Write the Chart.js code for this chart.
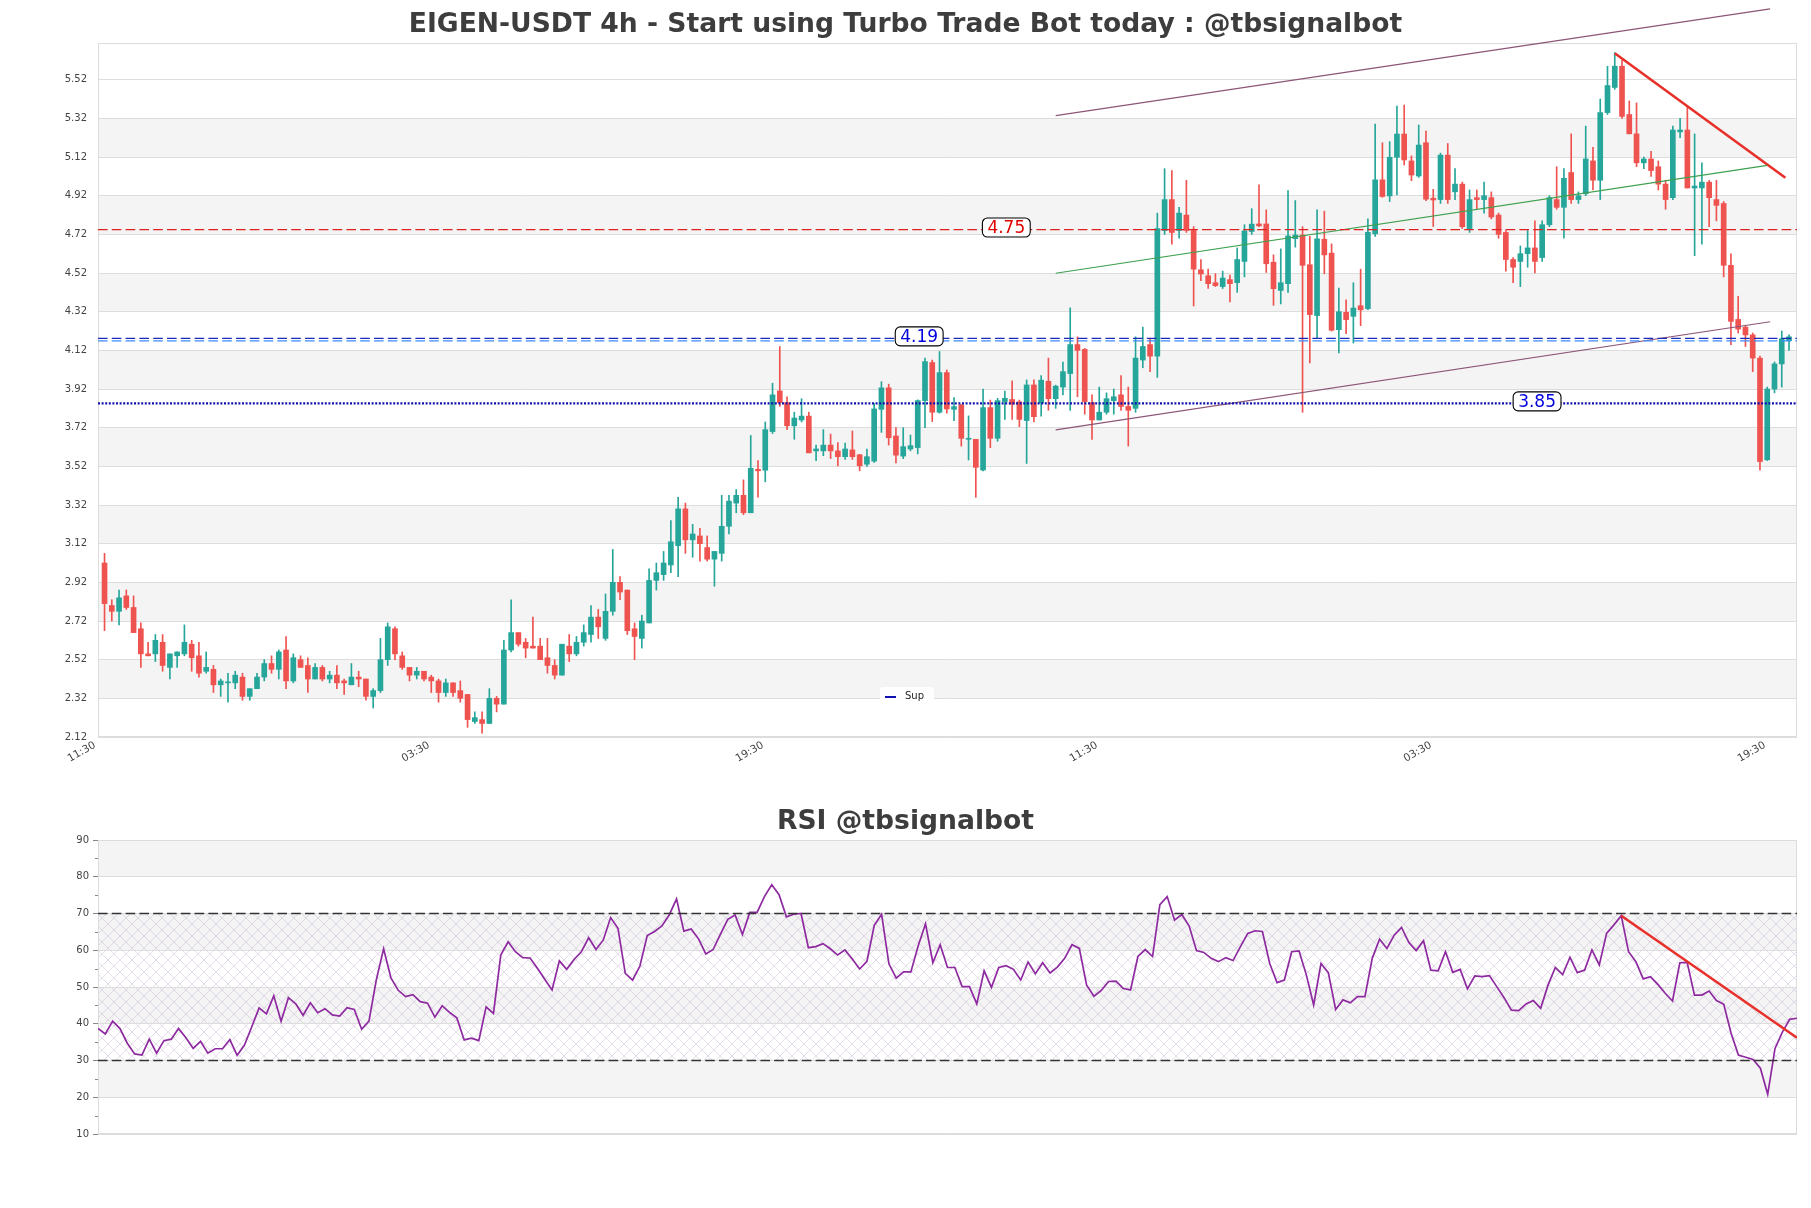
<!DOCTYPE html>
<html lang="en">
<head>
<meta charset="UTF-8">
<title>EIGEN-USDT 4h</title>
<script src="https://cdn.jsdelivr.net/npm/chart.js"></script>
<style>
  body { margin: 0; background: #fff; }
  #wrap { position: relative; width: 1811px; height: 1208px; }
  canvas { position: absolute; left: 0; }
  #price { top: 0; }
  #rsiChart { top: 780px; }
</style>
</head>
<body>
<div id="wrap">
  <canvas id="price" width="1811" height="780"></canvas>
  <canvas id="rsiChart" width="1811" height="428"></canvas>
</div>
<script>
// 4h candles (one entry per candle)
const open = [
  3.02, 2.80, 2.77, 2.85, 2.79, 2.68, 2.55, 2.55, 2.61, 2.48,
  2.54, 2.55, 2.60, 2.54, 2.46, 2.47, 2.39, 2.40, 2.40, 2.43,
  2.33, 2.37, 2.43, 2.50, 2.47, 2.57, 2.41, 2.52, 2.49, 2.42,
  2.48, 2.42, 2.44, 2.41, 2.39, 2.43, 2.42, 2.33, 2.36, 2.52,
  2.68, 2.54, 2.48, 2.44, 2.46, 2.43, 2.41, 2.35, 2.40, 2.36,
  2.34, 2.20, 2.21, 2.19, 2.32, 2.29, 2.57, 2.66, 2.61, 2.59,
  2.59, 2.53, 2.49, 2.44, 2.59, 2.55, 2.61, 2.65, 2.74, 2.63,
  2.77, 2.92, 2.88, 2.68, 2.63, 2.71, 2.93, 2.96, 3.01, 3.11,
  3.30, 3.14, 3.16, 3.10, 3.04, 3.07, 3.21, 3.33, 3.37, 3.28,
  3.505, 3.50, 3.70, 3.91, 3.85, 3.73, 3.76, 3.78, 3.60, 3.60,
  3.63, 3.60, 3.57, 3.605, 3.58, 3.531, 3.547, 3.815, 3.926, 3.677,
  3.573, 3.61, 3.617, 3.86, 4.057, 3.80, 4.005, 3.815, 3.838, 3.66,
  3.66, 3.501, 3.824, 3.665, 3.855, 3.866, 3.854, 3.757, 3.941, 3.848,
  3.96, 3.87, 3.93, 4.00, 4.15, 4.125, 3.85, 3.76, 3.80, 3.86,
  3.89, 3.83, 3.82, 4.07, 4.15, 4.09, 4.74, 4.90, 4.74, 4.82,
  4.74, 4.537, 4.506, 4.47, 4.45, 4.486, 4.47, 4.58, 4.735, 4.774,
  4.774, 4.576, 4.43, 4.465, 4.698, 4.717, 4.563, 4.30, 4.695, 4.623,
  4.227, 4.317, 4.296, 4.351, 4.336, 4.723, 5.002, 4.919, 5.119, 5.239,
  5.10, 5.022, 5.194, 4.907, 4.90, 5.13, 4.94, 4.98, 4.75, 4.91,
  4.90, 4.91, 4.82, 4.73, 4.59, 4.58, 4.62, 4.65, 4.60, 4.77,
  4.90, 4.86, 5.04, 4.90, 4.93, 5.10, 5.00, 5.35, 5.48, 5.59,
  5.34, 5.24, 5.09, 5.11, 5.07, 4.98, 4.91, 5.25, 5.26, 4.96,
  4.96, 4.99, 4.90, 4.88, 4.56, 4.28, 4.24, 4.20, 4.08, 3.554,
  3.92, 4.05, 4.17
];
const high = [
  3.07, 2.83, 2.88, 2.88, 2.85, 2.71, 2.61, 2.65, 2.65, 2.55,
  2.56, 2.70, 2.62, 2.61, 2.56, 2.49, 2.42, 2.45, 2.46, 2.45,
  2.37, 2.45, 2.52, 2.54, 2.57, 2.64, 2.55, 2.54, 2.53, 2.50,
  2.49, 2.46, 2.49, 2.42, 2.50, 2.46, 2.42, 2.37, 2.63, 2.71,
  2.69, 2.56, 2.48, 2.48, 2.46, 2.44, 2.42, 2.42, 2.40, 2.41,
  2.34, 2.25, 2.25, 2.37, 2.33, 2.62, 2.83, 2.66, 2.63, 2.74,
  2.63, 2.63, 2.52, 2.60, 2.65, 2.64, 2.70, 2.80, 2.78, 2.86,
  3.09, 2.95, 2.88, 2.71, 2.75, 2.99, 3.02, 3.08, 3.24, 3.36,
  3.33, 3.22, 3.20, 3.16, 3.08, 3.37, 3.37, 3.40, 3.45, 3.68,
  3.55, 3.75, 3.95, 4.14, 3.88, 3.80, 3.87, 3.80, 3.63, 3.71,
  3.687, 3.643, 3.64, 3.703, 3.582, 3.61, 3.846, 3.958, 3.945, 3.72,
  3.72, 3.682, 3.864, 4.08, 4.07, 4.114, 4.019, 3.876, 3.841, 3.781,
  3.66, 3.92, 3.863, 3.872, 3.91, 3.963, 3.863, 3.967, 3.967, 3.99,
  4.08, 3.94, 4.06, 4.34, 4.19, 4.13, 3.89, 3.93, 3.90, 3.92,
  3.99, 3.93, 4.19, 4.24, 4.18, 4.83, 5.06, 5.05, 4.86, 5.00,
  4.76, 4.59, 4.54, 4.517, 4.53, 4.51, 4.65, 4.77, 4.853, 4.976,
  4.847, 4.614, 4.645, 4.947, 4.895, 4.76, 4.71, 4.847, 4.84, 4.671,
  4.442, 4.382, 4.47, 4.54, 4.80, 5.29, 5.194, 5.20, 5.384, 5.389,
  5.126, 5.286, 5.255, 4.953, 5.14, 5.19, 5.06, 4.99, 4.95, 4.95,
  4.99, 4.94, 4.83, 4.74, 4.60, 4.66, 4.74, 4.79, 4.79, 4.92,
  5.07, 5.06, 5.24, 4.94, 5.28, 5.17, 5.42, 5.59, 5.66, 5.62,
  5.41, 5.40, 5.12, 5.15, 5.10, 5.00, 5.28, 5.32, 5.38, 5.24,
  5.09, 5.00, 5.00, 4.89, 4.62, 4.40, 4.25, 4.21, 4.09, 3.93,
  4.06, 4.22, 4.20
];
const low = [
  2.67, 2.72, 2.70, 2.78, 2.66, 2.48, 2.54, 2.51, 2.46, 2.42,
  2.48, 2.54, 2.46, 2.43, 2.45, 2.35, 2.33, 2.30, 2.37, 2.31,
  2.31, 2.37, 2.41, 2.45, 2.42, 2.37, 2.40, 2.48, 2.35, 2.42,
  2.41, 2.40, 2.37, 2.34, 2.39, 2.38, 2.31, 2.27, 2.35, 2.49,
  2.52, 2.47, 2.41, 2.42, 2.41, 2.35, 2.30, 2.33, 2.33, 2.30,
  2.17, 2.19, 2.14, 2.19, 2.25, 2.29, 2.56, 2.59, 2.53, 2.58,
  2.52, 2.45, 2.42, 2.44, 2.51, 2.54, 2.59, 2.61, 2.63, 2.62,
  2.75, 2.83, 2.65, 2.52, 2.58, 2.71, 2.88, 2.93, 2.97, 2.95,
  3.07, 3.05, 3.03, 3.03, 2.90, 3.03, 3.17, 3.28, 3.27, 3.28,
  3.36, 3.44, 3.69, 3.83, 3.71, 3.66, 3.75, 3.59, 3.55, 3.575,
  3.56, 3.522, 3.556, 3.556, 3.497, 3.52, 3.54, 3.696, 3.63, 3.538,
  3.56, 3.60, 3.584, 3.72, 3.752, 3.795, 3.795, 3.756, 3.625, 3.553,
  3.36, 3.497, 3.617, 3.65, 3.763, 3.763, 3.725, 3.535, 3.75, 3.78,
  3.81, 3.82, 3.89, 3.81, 3.88, 3.79, 3.66, 3.76, 3.79, 3.79,
  3.81, 3.625, 3.80, 4.03, 4.01, 3.98, 4.72, 4.67, 4.70, 4.73,
  4.35, 4.48, 4.44, 4.45, 4.44, 4.37, 4.42, 4.50, 4.72, 4.76,
  4.523, 4.353, 4.36, 4.42, 4.654, 3.80, 4.055, 4.184, 4.516, 4.22,
  4.107, 4.206, 4.158, 4.248, 4.33, 4.71, 4.912, 4.89, 4.924, 5.079,
  4.998, 5.015, 4.895, 4.761, 4.88, 4.88, 4.90, 4.75, 4.73, 4.85,
  4.83, 4.80, 4.70, 4.53, 4.47, 4.45, 4.55, 4.52, 4.58, 4.76,
  4.85, 4.70, 4.88, 4.88, 4.92, 4.95, 4.90, 5.34, 5.47, 5.32,
  5.24, 5.07, 5.06, 5.02, 4.95, 4.85, 4.90, 5.22, 4.96, 4.61,
  4.67, 4.76, 4.79, 4.50, 4.15, 4.21, 4.14, 4.01, 3.50, 3.55,
  3.90, 3.93, 4.12
];
const close = [
  2.81, 2.77, 2.84, 2.79, 2.66, 2.55, 2.54, 2.62, 2.49, 2.55,
  2.56, 2.61, 2.53, 2.45, 2.48, 2.39, 2.41, 2.40, 2.44, 2.33,
  2.37, 2.43, 2.50, 2.47, 2.56, 2.41, 2.53, 2.48, 2.42, 2.48,
  2.42, 2.44, 2.40, 2.40, 2.43, 2.42, 2.33, 2.36, 2.52, 2.69,
  2.55, 2.48, 2.44, 2.46, 2.42, 2.41, 2.35, 2.40, 2.35, 2.32,
  2.21, 2.22, 2.19, 2.32, 2.29, 2.57, 2.66, 2.60, 2.58, 2.58,
  2.52, 2.49, 2.44, 2.60, 2.55, 2.61, 2.66, 2.74, 2.69, 2.77,
  2.92, 2.87, 2.67, 2.64, 2.72, 2.93, 2.97, 3.02, 3.13, 3.30,
  3.14, 3.17, 3.12, 3.04, 3.08, 3.21, 3.34, 3.37, 3.28, 3.51,
  3.497, 3.71, 3.89, 3.85, 3.73, 3.77, 3.78, 3.59, 3.61, 3.63,
  3.60, 3.57, 3.61, 3.57, 3.523, 3.57, 3.817, 3.926, 3.668, 3.578,
  3.622, 3.627, 3.86, 4.062, 3.80, 4.005, 3.817, 3.829, 3.665, 3.662,
  3.515, 3.824, 3.665, 3.86, 3.872, 3.842, 3.763, 3.941, 3.777, 3.966,
  3.87, 3.935, 4.01, 4.15, 4.12, 3.855, 3.76, 3.80, 3.87, 3.88,
  3.83, 3.81, 4.08, 4.14, 4.09, 4.75, 4.90, 4.73, 4.83, 4.74,
  4.54, 4.515, 4.465, 4.455, 4.494, 4.465, 4.59, 4.738, 4.773, 4.764,
  4.568, 4.439, 4.47, 4.712, 4.717, 4.56, 4.305, 4.697, 4.614, 4.224,
  4.32, 4.279, 4.339, 4.33, 4.731, 5.002, 4.916, 5.119, 5.239, 5.105,
  5.027, 5.182, 4.902, 4.898, 5.13, 4.90, 4.98, 4.76, 4.90, 4.90,
  4.92, 4.81, 4.72, 4.59, 4.55, 4.62, 4.65, 4.58, 4.77, 4.91,
  4.86, 5.01, 4.90, 4.92, 5.11, 5.00, 5.35, 5.49, 5.59, 5.33,
  5.24, 5.09, 5.11, 5.05, 4.98, 4.90, 5.26, 5.26, 4.96, 4.97,
  4.99, 4.91, 4.87, 4.56, 4.27, 4.23, 4.20, 4.08, 3.545, 3.92,
  4.05, 4.18, 4.19
];
const rsi = [
  38.7, 37.2, 40.7, 38.7, 34.7, 31.8, 31.5, 35.8, 32.0, 35.4,
  35.8, 38.7, 36.2, 33.3, 35.2, 32.0, 33.2, 33.2, 35.7, 31.4,
  34.2, 39.2, 44.3, 42.7, 47.6, 40.7, 47.1, 45.4, 42.3, 45.7,
  43.0, 44.1, 42.4, 42.1, 44.4, 43.9, 38.5, 40.7, 51.9, 60.4,
  52.5, 49.1, 47.4, 47.9, 46.0, 45.6, 41.8, 44.9, 43.1, 41.6,
  35.6, 36.1, 35.4, 44.6, 42.8, 58.7, 62.3, 59.6, 58.0, 57.9,
  55.1, 52.1, 49.2, 57.1, 54.8, 57.5, 59.6, 63.4, 60.2, 62.8,
  68.9, 66.0, 53.7, 51.9, 55.7, 64.0, 65.1, 66.6, 69.6, 74.0,
  65.2, 65.8, 63.1, 59.0, 60.2, 64.4, 68.4, 69.6, 64.3, 70.3,
  70.3, 74.6, 77.8, 75.1, 69.1, 69.8, 70.0, 60.7, 61.0, 61.8,
  60.4, 58.7, 60.1, 57.6, 54.9, 57.0, 66.8, 69.8, 56.3, 52.4,
  54.1, 54.1, 61.2, 67.2, 56.6, 61.5, 55.3, 55.3, 50.1, 50.1,
  45.4, 54.4, 49.9, 55.3, 55.8, 54.8, 51.9, 56.8, 53.6, 56.6,
  53.8, 55.4, 57.8, 61.5, 60.5, 50.5, 47.5, 49.1, 51.5, 51.6,
  49.6, 49.2, 58.3, 60.2, 58.3, 72.4, 74.6, 68.2, 69.7, 66.6,
  59.9, 59.4, 57.8, 56.9, 58.0, 57.2, 61.0, 64.6, 65.3, 65.1,
  56.4, 51.2, 51.9, 59.6, 59.8, 53.3, 45.1, 56.4, 53.9, 43.9,
  46.5, 45.7, 47.4, 47.4, 57.8, 63.0, 60.5, 64.1, 66.2, 62.1,
  59.9, 62.6, 54.6, 54.4, 59.6, 54.0, 54.8, 49.5, 53.0, 52.8,
  53.1, 50.1, 47.1, 43.7, 43.6, 45.4, 46.3, 44.2, 50.5, 55.3,
  53.4, 58.1, 53.9, 54.6, 60.1, 56.0, 64.6, 66.9, 69.4, 59.6,
  56.9, 52.2, 52.8, 50.7, 48.3, 46.2, 56.6, 56.7, 47.8, 47.8,
  48.9, 46.3, 45.3, 37.4, 31.5, 30.9, 30.3, 27.9, 20.8, 33.3,
  37.7, 41.2, 41.5
];

const yTicks = [2.12, 2.32, 2.52, 2.72, 2.92, 3.12, 3.32, 3.52, 3.72, 3.92,
                4.12, 4.32, 4.52, 4.72, 4.92, 5.12, 5.32, 5.52];
const xTickLabels = ['11:30', '03:30', '19:30', '11:30', '03:30', '19:30'];
const candlesPerTick = 46;

// horizontal levels
const resistance = 4.745;
const pivotHi = 4.182;
const pivotLo = 4.169;
const support = 3.846;
const resistanceText = '4.75';
const pivotText = '4.19';
const supportText = '3.85';

// trend lines as [candle, price] pairs
const channelTop = [[132, 5.334], [230.4, 5.887]];
const channelMid = [[132, 4.519], [230.0, 5.077]];
const channelLow = [[132, 3.709], [230.4, 4.268]];
const downTrend = [[209, 5.657], [232.5, 5.013]];
const rsiTrend = [[209, 69.4], [233, 36.2]];

const GREEN = '#26a69a', RED = '#ef5350';
Chart.defaults.font.family = 'DejaVu Sans';
Chart.defaults.color = '#444';

const idx = open.map((_, i) => i + 1);
const colors = idx.map((_, i) => close[i] >= open[i] ? GREEN : RED);
const xMin = 0.1, xMax = 234.1;

function toXY(pairs) { return pairs.map(p => ({x: p[0], y: p[1]})); }
function hline(v) { return [{x: xMin, y: v}, {x: xMax, y: v}]; }

function lineSet(data, color, width, dash, extra) {
  return Object.assign({
    type: 'line', data, borderColor: color, borderWidth: width,
    borderDash: dash || [], pointRadius: 0, fill: false, tension: 0, order: 1
  }, extra || {});
}

// empty strip on the right so the plot ends where the picture's does
const rightGap = {
  position: 'right', display: true,
  grid: { display: false, drawTicks: false }, border: { display: false },
  ticks: { display: false },
  afterFit: s => { s.width = 7; }
};

const bandsPlugin = {
  id: 'bands',
  beforeDraw(chart, args, opts) {
    const {ctx, chartArea: a, scales: {y}} = chart;
    ctx.save();
    ctx.fillStyle = '#f4f4f4';
    opts.ranges.forEach(r => {
      const t = y.getPixelForValue(r[1]), b = y.getPixelForValue(r[0]);
      ctx.fillRect(a.left, t, a.right - a.left, b - t);
    });
    if (opts.hatch) {
      const c = document.createElement('canvas');
      c.width = 12; c.height = 12;
      const g = c.getContext('2d');
      g.strokeStyle = 'rgba(185,160,200,0.5)';
      g.lineWidth = 0.7;
      g.beginPath();
      g.moveTo(0, 0); g.lineTo(12, 12);
      g.moveTo(12, 0); g.lineTo(0, 12);
      g.stroke();
      ctx.fillStyle = ctx.createPattern(c, 'repeat');
      const t = y.getPixelForValue(opts.hatch[1]), b = y.getPixelForValue(opts.hatch[0]);
      ctx.fillRect(a.left, t, a.right - a.left, b - t);
    }
    ctx.restore();
  },
  beforeDatasetsDraw(chart) {
    const {ctx, chartArea: a} = chart;
    ctx.save();
    ctx.strokeStyle = '#dcdcdc';
    ctx.lineWidth = 1;
    ctx.strokeRect(a.left + 0.5, a.top + 0.5, a.right - a.left - 1, a.bottom - a.top - 1);
    ctx.restore();
  }
};

function tag(ctx, x, y, text, color) {
  ctx.font = '17px "DejaVu Sans"';
  const w = ctx.measureText(text).width + 10, h = 19;
  ctx.beginPath();
  ctx.roundRect(x - w / 2, y - h / 2, w, h, 5);
  ctx.fillStyle = '#fff';
  ctx.fill();
  ctx.strokeStyle = '#000';
  ctx.lineWidth = 1.1;
  ctx.stroke();
  ctx.fillStyle = color;
  ctx.textAlign = 'center';
  ctx.textBaseline = 'middle';
  ctx.fillText(text, x, y + 1);
}

const labelsPlugin = {
  id: 'levelTags',
  afterDatasetsDraw(chart) {
    const {ctx, chartArea: a, scales: {x, y}} = chart;
    ctx.save();
    tag(ctx, x.getPixelForValue(125.2), y.getPixelForValue(resistance) - 2, resistanceText, '#e00000');
    tag(ctx, x.getPixelForValue(113.2), y.getPixelForValue(pivotHi) - 2, pivotText, '#0000dd');
    tag(ctx, x.getPixelForValue(198.3), y.getPixelForValue(support) - 2, supportText, '#0000dd');

    // legend box
    const lx = a.left + 782, ly = a.bottom - 50;
    ctx.fillStyle = 'rgba(255,255,255,0.9)';
    ctx.beginPath();
    ctx.roundRect(lx, ly, 54, 17, 3);
    ctx.fill();
    ctx.strokeStyle = '#1010b0';
    ctx.lineWidth = 2;
    ctx.beginPath();
    ctx.moveTo(lx + 5, ly + 10); ctx.lineTo(lx + 16, ly + 10);
    ctx.stroke();
    ctx.fillStyle = '#222';
    ctx.font = '10px "DejaVu Sans"';
    ctx.textAlign = 'left';
    ctx.textBaseline = 'middle';
    ctx.fillText('Sup', lx + 25, ly + 9);
    ctx.restore();
  }
};

new Chart(document.getElementById('price'), {
  type: 'bar',
  data: {
    datasets: [
      {
        label: 'wick', data: idx.map((x, i) => ({x, y: [low[i], high[i]]})),
        backgroundColor: colors, barThickness: 1, grouped: false, order: 10
      },
      {
        label: 'body', data: idx.map((x, i) => ({x, y: [Math.min(open[i], close[i]), Math.max(open[i], close[i])]})),
        backgroundColor: colors, barThickness: 5, minBarLength: 1, grouped: false, order: 9
      },
      lineSet(hline(resistance), '#dd2020', 1.3, [9.6, 4.2]),
      lineSet(hline(pivotLo), '#3b8cff', 1.1, [9.6, 4.2]),
      lineSet(hline(pivotHi), '#1a2ab8', 1.1, [9.6, 4.2]),
      lineSet(hline(support), '#1010b0', 2.4, [2, 1.6]),
      lineSet(toXY(channelTop), '#8d5577', 1.2, null, {clip: false}),
      lineSet(toXY(channelMid), '#3ea04e', 1.2),
      lineSet(toXY(channelLow), '#8d5577', 1.2),
      lineSet(toXY(downTrend), '#e8302a', 2.6)
    ]
  },
  options: {
    responsive: false,
    animation: false,
    devicePixelRatio: 1,
    layout: { padding: { left: 7, right: 7, top: 0, bottom: 0 } },
    scales: {
      x: {
        type: 'linear', min: xMin, max: xMax, offset: false,
        grid: { display: false, drawTicks: false }, border: { display: false },
        afterBuildTicks: s => { s.ticks = xTickLabels.map((_, k) => ({value: 0.15 + candlesPerTick * k})); },
        afterFit: s => { s.height = 43; },
        ticks: {
          autoSkip: false, minRotation: 30, maxRotation: 30, padding: 2, labelOffset: -3.5,
          font: { size: 10.5 }, color: '#444',
          callback: (v, i) => xTickLabels[i]
        }
      },
      y: {
        type: 'linear', min: 2.12, max: 5.71, beginAtZero: false,
        grid: { color: '#dddddd', drawTicks: false }, border: { display: false },
        afterBuildTicks: s => { s.ticks = yTicks.map(v => ({value: v})); },
        afterFit: s => { s.width = 91; },
        ticks: { padding: 11, font: { size: 10 }, color: '#444', callback: v => v.toFixed(2) }
      },
      gap: rightGap
    },
    plugins: {
      legend: { display: false },
      tooltip: { enabled: false },
      title: {
        display: true,
        text: 'EIGEN-USDT 4h - Start using Turbo Trade Bot today : @tbsignalbot',
        color: '#3d3d3d',
        font: { size: 26.6, weight: 'bold' },
        padding: { top: 9.04, bottom: 2.04 }
      },
      bands: { ranges: [[2.32, 2.52], [2.72, 2.92], [3.12, 3.32], [3.52, 3.72],
                        [3.92, 4.12], [4.32, 4.52], [4.72, 4.92], [5.12, 5.32]] }
    }
  },
  plugins: [bandsPlugin, labelsPlugin]
});

// minor tick marks on the RSI axis
const minorTicks = {
  id: 'minorTicks',
  afterDraw(chart) {
    const {ctx, chartArea: a, scales: {y}} = chart;
    ctx.save();
    ctx.strokeStyle = '#888';
    ctx.lineWidth = 1;
    for (let v = 15; v < 90; v += 10) {
      const py = Math.round(y.getPixelForValue(v)) + 0.5;
      ctx.beginPath();
      ctx.moveTo(a.left - 3, py); ctx.lineTo(a.left, py);
      ctx.stroke();
    }
    ctx.restore();
  }
};

new Chart(document.getElementById('rsiChart'), {
  type: 'line',
  data: {
    datasets: [
      lineSet(idx.map((x, i) => ({x, y: rsi[i]})), '#8e2aa0', 1.7, null, {order: 3}),
      lineSet([{x: 1, y: 70}, {x: 233, y: 70}], '#333', 1.3, [9.6, 4.2], {order: 2}),
      lineSet([{x: 1, y: 30}, {x: 233, y: 30}], '#333', 1.3, [9.6, 4.2], {order: 2}),
      lineSet(toXY(rsiTrend), '#e8302a', 2.6)
    ]
  },
  options: {
    responsive: false,
    animation: false,
    devicePixelRatio: 1,
    layout: { padding: { left: 7, right: 7, top: 0, bottom: 74 } },
    scales: {
      x: { type: 'linear', min: 1, max: 233, display: false },
      y: {
        min: 10, max: 90,
        grid: { color: '#dddddd', tickColor: '#888', tickLength: 5 },
        border: { display: false },
        afterFit: s => { s.width = 91; },
        ticks: { stepSize: 10, padding: 4, font: { size: 10 }, color: '#444' }
      },
      gap: rightGap
    },
    plugins: {
      legend: { display: false },
      tooltip: { enabled: false },
      title: {
        display: true,
        text: 'RSI @tbsignalbot',
        color: '#3d3d3d',
        font: { size: 26.6, weight: 'bold' },
        padding: { top: 26.04, bottom: 2.04 }
      },
      bands: { ranges: [[20, 30], [40, 50], [60, 70], [80, 90]], hatch: [30, 70] }
    }
  },
  plugins: [bandsPlugin, minorTicks]
});
</script>
</body>
</html>
